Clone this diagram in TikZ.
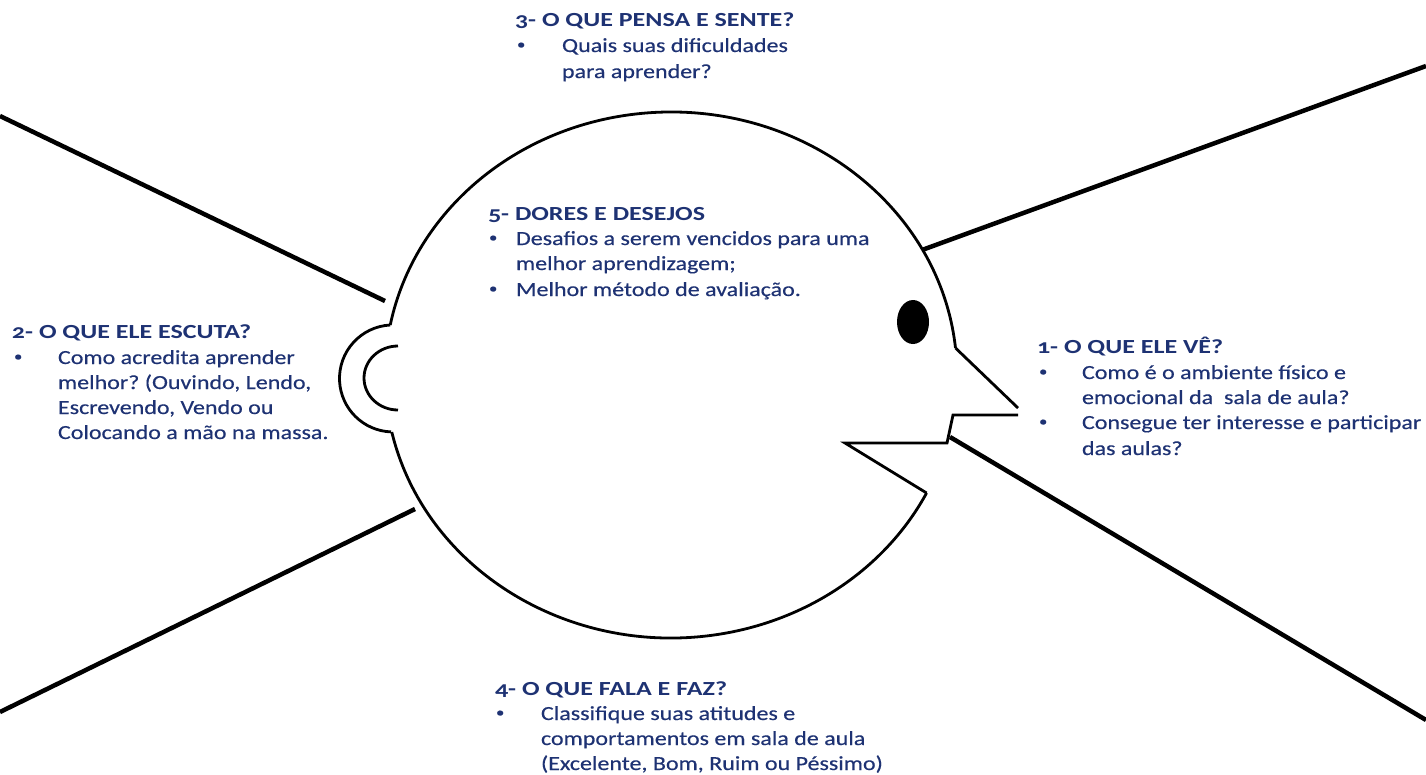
\documentclass[tikz,border=0pt]{standalone}
\usepackage{fontspec}
\setmainfont{Carlito}[FakeStretch=1.2,FakeBold=0.4]
\newfontfamily\titlefam{Carlito}[FakeStretch=1.3,Numbers=OldStyle]
\definecolor{navy}{RGB}{30,50,115}
\frenchspacing
\begin{document}
\begin{tikzpicture}[x=1pt,y=-1pt,
  txt/.style={anchor=base west,inner sep=0pt,outer sep=0pt,text=navy,font=\fontsize{20}{24}\selectfont},
  blt/.style={anchor=base west,inner sep=0pt,outer sep=0pt,text=navy,font=\fontsize{14}{16}\selectfont},
  ttl/.style={anchor=base west,inner sep=0pt,outer sep=0pt,text=navy,font=\fontsize{20}{24}\selectfont\titlefam\bfseries},
  ray/.style={line width=4.5pt},
  outline/.style={line width=2.8pt,line join=miter}]
\useasboundingbox (0,0) rectangle (1426,774);
% coordinates
\coordinate (ulA) at (0,116);   \coordinate (ulB) at (385,301);
\coordinate (llA) at (0,712);   \coordinate (llB) at (415,509);
\coordinate (urA) at (922,250); \coordinate (urB) at (1426,66);
\coordinate (lrA) at (950,437); \coordinate (lrB) at (1426,720);
\coordinate (noseTop) at (955.5,348);
\coordinate (noseTip) at (1018,408);
\coordinate (earTop) at (390.2,325);
\coordinate (earBot) at (391.8,432);
\coordinate (jaw) at (926.6,493);
\coordinate (mouthIn) at (845,443);
\coordinate (lipR) at (947,443);
\coordinate (noseBotL) at (953,415);
\coordinate (noseBotR) at (1018,415);
% rays
\draw[ray] (ulA) -- (ulB);
\draw[ray] (llA) -- (llB);
\draw[ray] (urA) -- (urB);
\draw[ray] (lrA) -- (lrB);
% head
\draw[outline] (noseTop) arc[start angle=-5.89,end angle=-169.04,x radius=286,y radius=263];
\draw[outline] (earTop) arc[start angle=-93,end angle=-268,radius=53.5];
\draw[outline] (earBot) arc[start angle=167.48,end angle=26.66,x radius=286,y radius=263];
\draw[outline] (jaw) -- (mouthIn) -- (lipR) -- (noseBotL) -- (noseBotR);
\draw[outline] (noseTop) -- (noseTip);
\draw[outline] (398,346) arc[start angle=-90,end angle=-270,x radius=34,y radius=32];
\fill (913,322) ellipse[x radius=16,y radius=22];
% block 3
\node[ttl] (t3) at (515,26) {3- O QUE PENSA E SENTE?};
\node[blt] (t3b) at (517,49) {•};
\node[txt] (t3l1) at (562,52) {Quais suas dificuldades};
\node[txt] (t3l2) at (562,78) {para aprender?};
% block 5
\node[ttl] (t5) at (488,220) {5- DORES E DESEJOS};
\node[blt] (t5b1) at (489,242) {•};
\node[txt] (t5l1) at (516,245) {Desafios a serem vencidos para uma};
\node[txt] (t5l2) at (516,270) {melhor aprendizagem;};
\node[blt] (t5b2) at (489,293) {•};
\node[txt] (t5l3) at (516,296) {Melhor método de avaliação.};
% block 2
\node[ttl] (t2) at (12,338) {2- O QUE ELE ESCUTA?};
\node[blt] (t2b) at (14,361) {•};
\node[txt] (t2l1) at (58,364) {Como acredita aprender};
\node[txt] (t2l2) at (58,389) {melhor? (Ouvindo, Lendo,};
\node[txt] (t2l3) at (58,414) {Escrevendo, Vendo ou};
\node[txt] (t2l4) at (58,439) {Colocando a mão na massa.};
% block 1
\node[ttl] (t1) at (1037,353) {1- O QUE ELE VÊ?};
\node[blt] (t1b1) at (1039,376) {•};
\node[txt] (t1l1) at (1082,379) {Como é o ambiente físico e};
\node[txt] (t1l2) at (1082,404) {emocional da \ sala de aula?};
\node[blt] (t1b2) at (1039,426) {•};
\node[txt] (t1l3) at (1082,429) {Consegue ter interesse e participar};
\node[txt] (t1l4) at (1082,455) {das aulas?};
% block 4
\node[ttl] (t4) at (495,695) {4- O QUE FALA E FAZ?};
\node[blt] (t4b) at (496,717) {•};
\node[txt] (t4l1) at (541,720) {Classifique suas atitudes e};
\node[txt] (t4l2) at (541,745) {comportamentos em sala de aula};
\node[txt] (t4l3) at (541,770) {(Excelente, Bom, Ruim ou Péssimo)};
\end{tikzpicture}
\end{document}
